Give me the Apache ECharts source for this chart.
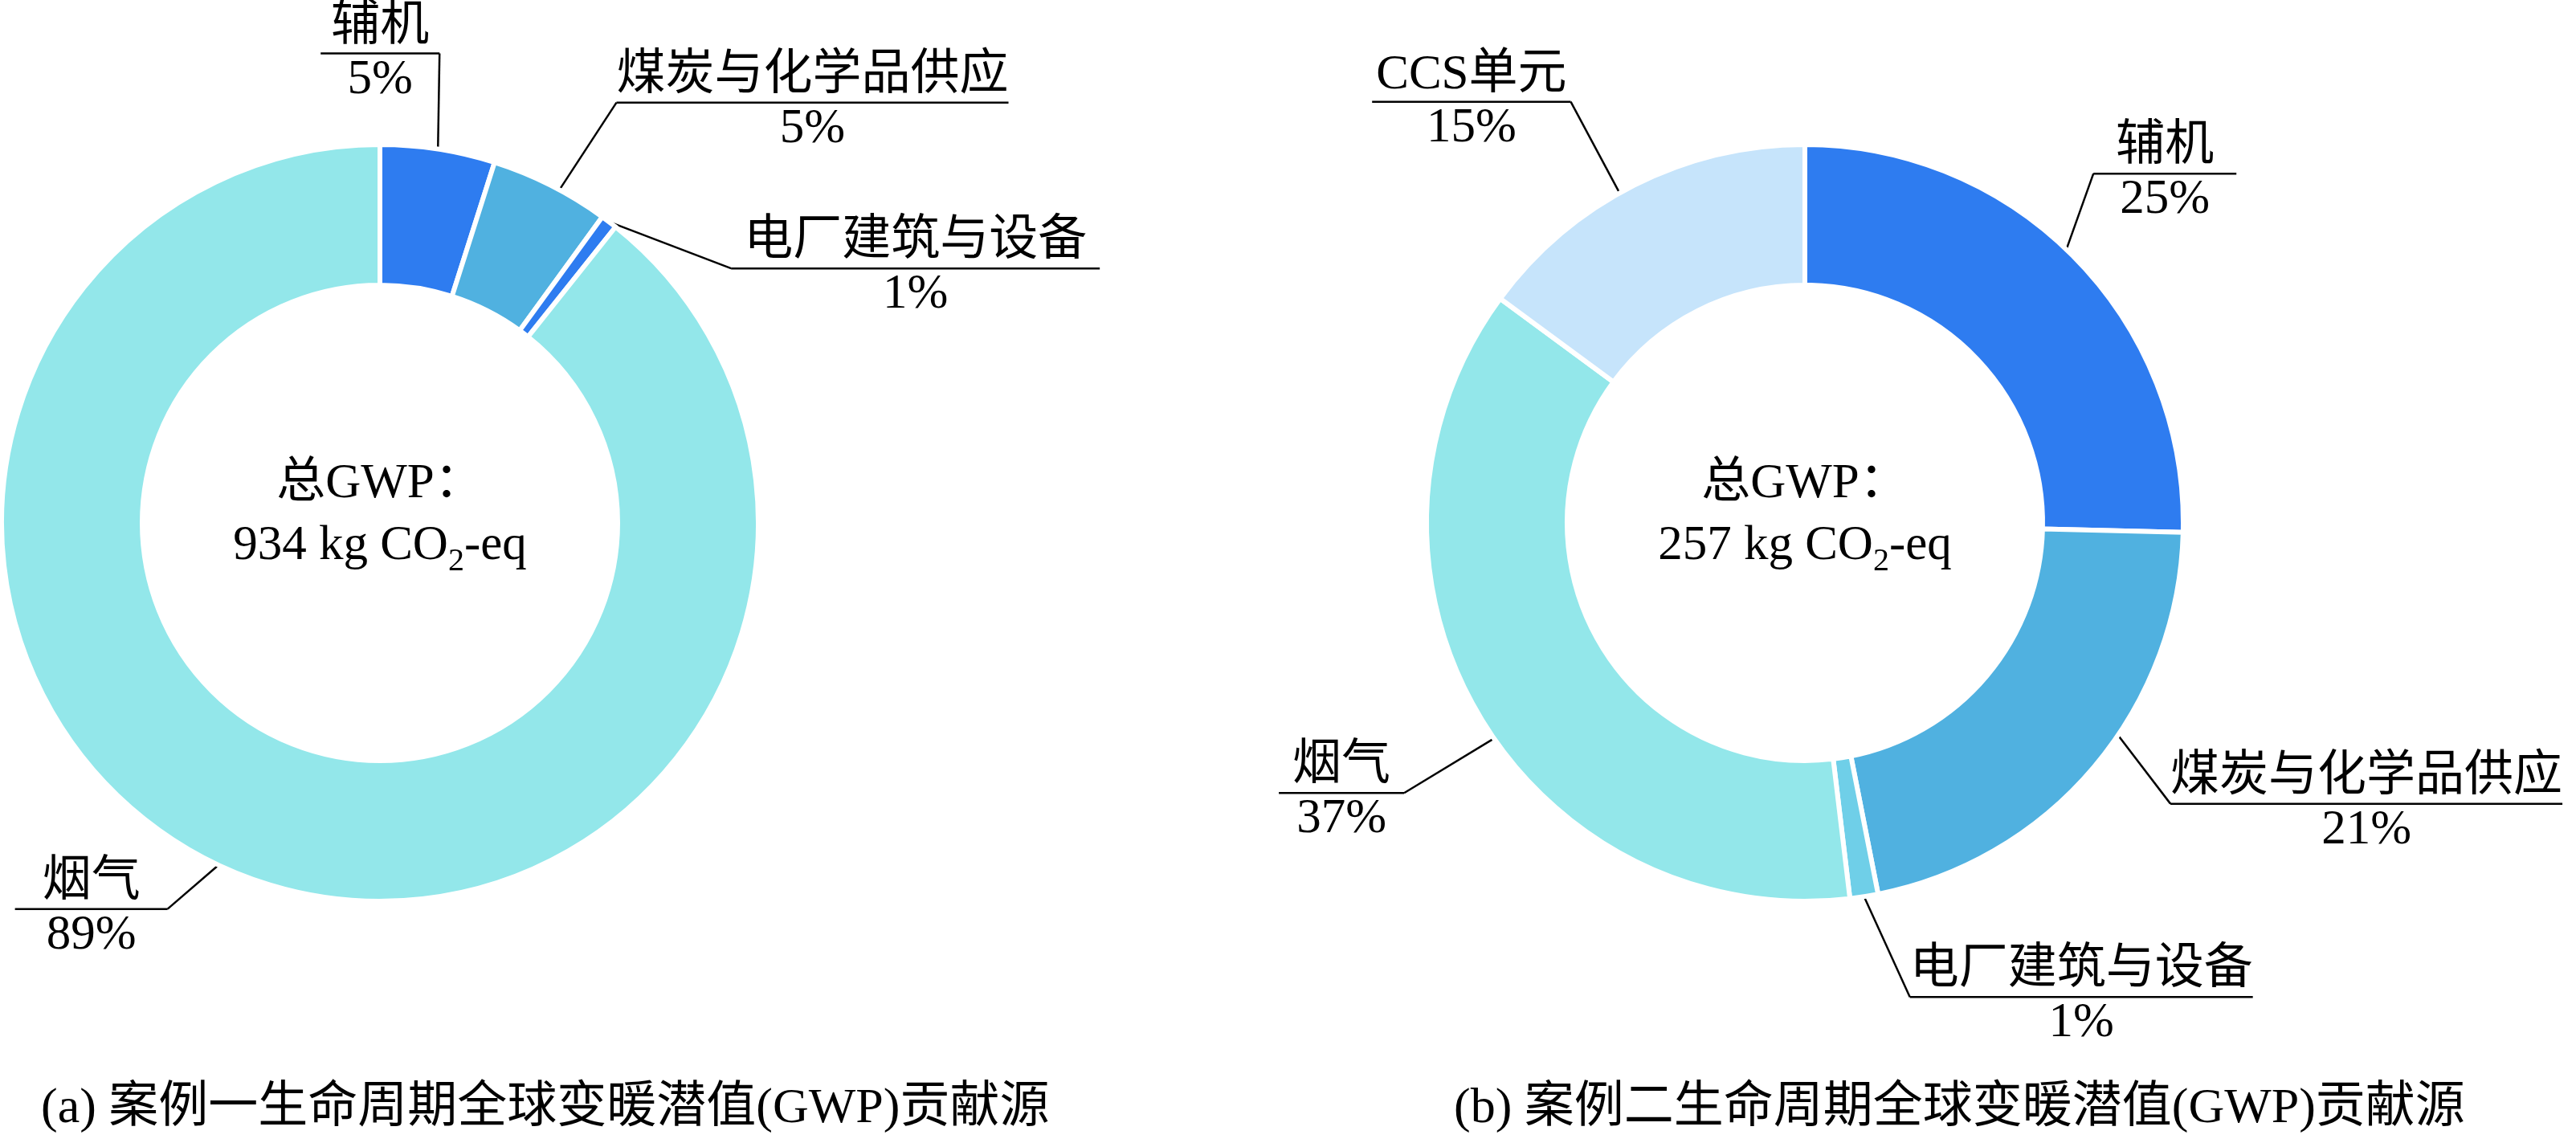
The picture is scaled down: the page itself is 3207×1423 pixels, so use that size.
<!DOCTYPE html>
<html>
<head>
<meta charset="utf-8">
<script src="https://cdn.jsdelivr.net/npm/echarts@6/dist/echarts.min.js"></script>
<style>
  html, body { margin: 0; background: #fff; }
  #main { width: 3207px; height: 1423px; }
</style>
</head>
<body>
<div id="main"></div>
<script>
// case 1 (left donut)
const leftNames = ['辅机', '煤炭与化学品供应', '电厂建筑与设备', '烟气'];
const leftValues = [4.9, 5.1, 0.7, 89.3];
const leftPercents = ['5%', '5%', '1%', '89%'];

// case 2 (right donut)
const rightNames = ['辅机', '煤炭与化学品供应', '电厂建筑与设备', '烟气', 'CCS单元'];
const rightValues = [25.4, 21.5, 1.2, 37.0, 14.9];
const rightPercents = ['25%', '21%', '1%', '37%', '15%'];

const totals = [934, 257];
const captions = [
  '(a) 案例一生命周期全球变暖潜值(GWP)贡献源',
  '(b) 案例二生命周期全球变暖潜值(GWP)贡献源'
];

const leftColors = ['#2e7cf0', '#50b1e0', '#2e7cf0', '#93e7ea'];
const rightColors = ['#2e7cf0', '#50b1e0', '#6fcfe8', '#93e7ea', '#c6e4fb'];

const leftCenter = [473, 651];
const rightCenter = [2247, 651];

// label placement: [dx, dy from slice edge, side of label, padding around name, shift of line start (deg)]
const leftLabelLayout = [
  [2, -119, 'right', 13, 0],
  [82, -103, 'left', 0, 1.5],
  [152, 58, 'left', 16, 0],
  [-109, 36, 'right', 34, 6]
];
const rightLabelLayout = [
  [22, -106, 'left', 28, -2],
  [95, 46, 'left', 0, -6],
  [57, 125, 'left', 0, 0],
  [-92, 99, 'right', 17, -4.5],
  [-79, -104, 'right', 5, -2.5]
];

const FONT = "'Liberation Serif', 'Times New Roman', 'Noto Sans CJK SC', serif";

function makeRich(pad) {
  return {
    n: { fontFamily: FONT, fontSize: 61, color: '#000', lineHeight: 66, align: 'center', padding: [0, pad] },
    hr: { width: '100%', height: 0, lineHeight: 0, borderColor: '#000', borderWidth: 2.5 },
    p: { fontFamily: FONT, fontSize: 61, color: '#000', lineHeight: 66, align: 'center' }
  };
}

function buildData(names, values, colors, layout) {
  return names.map(function (n, i) {
    return {
      name: n,
      value: values[i],
      itemStyle: { color: colors[i] },
      label: { rich: makeRich(layout[i][3]) }
    };
  });
}

function layoutFor(layout, center) {
  return function (params) {
    const o = layout[params.dataIndex];
    const pts = params.labelLinePoints;
    if (!pts) return {};
    const p0 = pts[0];
    const end = [p0[0] + o[0], p0[1] + o[1]];
    // slide the start of the line along the outer edge
    const a = o[4] * Math.PI / 180;
    const vx = p0[0] - center[0], vy = p0[1] - center[1];
    const start = [
      center[0] + vx * Math.cos(a) - vy * Math.sin(a),
      center[1] + vx * Math.sin(a) + vy * Math.cos(a)
    ];
    return {
      x: end[0],
      y: end[1],
      align: o[2],
      verticalAlign: 'middle',
      labelLinePoints: [start, end]
    };
  };
}

function donut(center, names, values, colors, percents, layout) {
  return {
    type: 'pie',
    center: center,
    radius: [296, 471],
    startAngle: 90,
    clockwise: true,
    avoidLabelOverlap: false,
    animation: false,
    silent: true,
    itemStyle: { borderColor: '#fff', borderWidth: 6 },
    label: {
      show: true,
      position: 'outside',
      formatter: function (p) {
        return '{n|' + p.name + '}\n{hr|}\n{p|' + percents[p.dataIndex] + '}';
      }
    },
    labelLine: { show: true, lineStyle: { color: '#000', width: 2.5 } },
    labelLayout: layoutFor(layout, center),
    data: buildData(names, values, colors, layout)
  };
}

function centerText(center, total) {
  return {
    type: 'pie',
    center: center,
    radius: [0, 1],
    silent: true,
    animation: false,
    itemStyle: { color: 'rgba(0,0,0,0)' },
    labelLine: { show: false },
    label: {
      show: true,
      position: 'center',
      padding: [0, 0, 19, 0],
      formatter: '{t|总GWP：}\n{t|' + total + ' kg CO}{s|2}{t|-eq}',
      rich: {
        t: { fontFamily: FONT, fontSize: 61, color: '#000', lineHeight: 77 },
        s: { fontFamily: FONT, fontSize: 40, color: '#000', height: 38, lineHeight: 38, verticalAlign: 'bottom' }
      }
    },
    data: [{ name: '', value: total }]
  };
}

const chart = echarts.init(document.getElementById('main'));
const captionStyle = { fontFamily: FONT, fontSize: 62, fontWeight: 'normal', color: '#000' };

chart.setOption({
  backgroundColor: '#fff',
  animation: false,
  title: [
    { text: captions[0], left: 51, top: 1350, padding: 0, textStyle: captionStyle },
    { text: captions[1], left: 1810, top: 1350, padding: 0, textStyle: captionStyle }
  ],
  series: [
    donut(leftCenter, leftNames, leftValues, leftColors, leftPercents, leftLabelLayout),
    donut(rightCenter, rightNames, rightValues, rightColors, rightPercents, rightLabelLayout),
    centerText(leftCenter, totals[0]),
    centerText(rightCenter, totals[1])
  ]
});
</script>
</body>
</html>
